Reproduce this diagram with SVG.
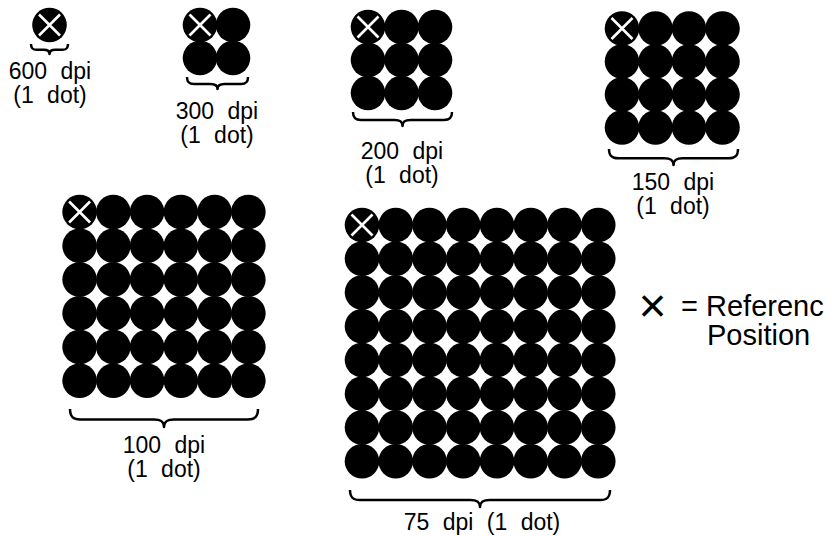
<svg xmlns="http://www.w3.org/2000/svg" xmlns:xlink="http://www.w3.org/1999/xlink" width="835" height="536" viewBox="0 0 835 536">
<style>
.dot{fill:#000}
.xm{stroke:#fff;stroke-width:2.6;fill:none}
.brace{fill:none;stroke:#000;stroke-width:2.5;stroke-linejoin:round}
.lbl{font-family:"Liberation Sans",Arial,Helvetica,sans-serif;font-size:23px;fill:#000;text-anchor:middle;word-spacing:7px}
.leg{font-family:"Liberation Sans",Arial,Helvetica,sans-serif;font-size:29px;fill:#000}
</style>
<defs>
<circle id="d" class="dot" r="17.3"/>
<g id="dx"><circle class="dot" r="17.3"/><path class="xm" d="M-10.5 -10.5 L10.5 10.5 M10.5 -10.5 L-10.5 10.5"/></g>
</defs>
<rect width="835" height="536" fill="#fff"/>

<g id="dpi600">
<use href="#dx" x="49.5" y="25"/>
<path class="brace" d="M31 44 C31 48.4 32.7 49.8 36.8 49.8 L43.7 49.8 C47.5 49.8 49.5 50.6 49.5 54 C49.5 50.6 51.5 49.8 55.3 49.8 L62.2 49.8 C66.3 49.8 68 48.4 68 44"/>
<text class="lbl" x="50" y="79">600 dpi</text>
<text class="lbl" x="50" y="103">(1 dot)</text>
</g>

<g id="dpi300">
<use href="#dx" x="200" y="25"/><use href="#d" x="233" y="25"/>
<use href="#d" x="200" y="58"/><use href="#d" x="233" y="58"/>
<path class="brace" d="M187 77 C187 82.2 189.1 84 194 84 L210.5 84 C215 84 217.5 85 217.5 89 C217.5 85 220 84 224.5 84 L241 84 C245.9 84 248 82.2 248 77"/>
<text class="lbl" x="217" y="119">300 dpi</text>
<text class="lbl" x="217" y="143">(1 dot)</text>
</g>

<g id="dpi200">
<use href="#dx" x="368" y="27"/><use href="#d" x="401.5" y="27"/><use href="#d" x="435" y="27"/>
<use href="#d" x="368" y="60"/><use href="#d" x="401.5" y="60"/><use href="#d" x="435" y="60"/>
<use href="#d" x="368" y="93"/><use href="#d" x="401.5" y="93"/><use href="#d" x="435" y="93"/>
<path class="brace" d="M353 112 C353 118 355.4 120 361 120 L394.5 120 C399.7 120 402.5 121.2 402.5 126 C402.5 121.2 405.3 120 410.5 120 L444 120 C449.6 120 452 118 452 112"/>
<text class="lbl" x="402" y="159">200 dpi</text>
<text class="lbl" x="402" y="183">(1 dot)</text>
</g>

<g id="dpi150">
<use href="#dx" x="622" y="28.5"/><use href="#d" x="655.5" y="28.5"/><use href="#d" x="689" y="28.5"/><use href="#d" x="722.5" y="28.5"/>
<use href="#d" x="622" y="61.5"/><use href="#d" x="655.5" y="61.5"/><use href="#d" x="689" y="61.5"/><use href="#d" x="722.5" y="61.5"/>
<use href="#d" x="622" y="94.5"/><use href="#d" x="655.5" y="94.5"/><use href="#d" x="689" y="94.5"/><use href="#d" x="722.5" y="94.5"/>
<use href="#d" x="622" y="127.5"/><use href="#d" x="655.5" y="127.5"/><use href="#d" x="689" y="127.5"/><use href="#d" x="722.5" y="127.5"/>
<path class="brace" d="M609 149 C609 156 611.8 158.3 618.3 158.3 L664.2 158.3 C670.2 158.3 673.5 159.6 673.5 165 C673.5 159.6 676.8 158.3 682.8 158.3 L728.7 158.3 C735.2 158.3 738 156 738 149"/>
<text class="lbl" x="673" y="190">150 dpi</text>
<text class="lbl" x="673" y="214">(1 dot)</text>
</g>

<g id="dpi100">
<use href="#dx" x="79.6" y="212"/><use href="#d" x="113.35" y="212"/><use href="#d" x="147.1" y="212"/><use href="#d" x="180.85" y="212"/><use href="#d" x="214.6" y="212"/><use href="#d" x="248.35" y="212"/>
<use href="#d" x="79.6" y="245.75"/><use href="#d" x="113.35" y="245.75"/><use href="#d" x="147.1" y="245.75"/><use href="#d" x="180.85" y="245.75"/><use href="#d" x="214.6" y="245.75"/><use href="#d" x="248.35" y="245.75"/>
<use href="#d" x="79.6" y="279.5"/><use href="#d" x="113.35" y="279.5"/><use href="#d" x="147.1" y="279.5"/><use href="#d" x="180.85" y="279.5"/><use href="#d" x="214.6" y="279.5"/><use href="#d" x="248.35" y="279.5"/>
<use href="#d" x="79.6" y="313.25"/><use href="#d" x="113.35" y="313.25"/><use href="#d" x="147.1" y="313.25"/><use href="#d" x="180.85" y="313.25"/><use href="#d" x="214.6" y="313.25"/><use href="#d" x="248.35" y="313.25"/>
<use href="#d" x="79.6" y="347"/><use href="#d" x="113.35" y="347"/><use href="#d" x="147.1" y="347"/><use href="#d" x="180.85" y="347"/><use href="#d" x="214.6" y="347"/><use href="#d" x="248.35" y="347"/>
<use href="#d" x="79.6" y="380.75"/><use href="#d" x="113.35" y="380.75"/><use href="#d" x="147.1" y="380.75"/><use href="#d" x="180.85" y="380.75"/><use href="#d" x="214.6" y="380.75"/><use href="#d" x="248.35" y="380.75"/>
<path class="brace" d="M70 409 C70 416.8 73.1 419.4 80.4 419.4 L153.6 419.4 C160.4 419.4 164 420.9 164 427 C164 420.9 167.6 419.4 174.4 419.4 L247.6 419.4 C254.9 419.4 258 416.8 258 409"/>
<text class="lbl" x="164" y="453">100 dpi</text>
<text class="lbl" x="164" y="477">(1 dot)</text>
</g>

<g id="dpi75">
<g id="r75a"><use href="#dx" x="362" y="225"/><use href="#d" x="395.75" y="225"/><use href="#d" x="429.5" y="225"/><use href="#d" x="463.25" y="225"/><use href="#d" x="497" y="225"/><use href="#d" x="530.75" y="225"/><use href="#d" x="564.5" y="225"/><use href="#d" x="598.25" y="225"/></g>
<g id="r75"><use href="#d" x="362" y="258.75"/><use href="#d" x="395.75" y="258.75"/><use href="#d" x="429.5" y="258.75"/><use href="#d" x="463.25" y="258.75"/><use href="#d" x="497" y="258.75"/><use href="#d" x="530.75" y="258.75"/><use href="#d" x="564.5" y="258.75"/><use href="#d" x="598.25" y="258.75"/></g>
<use href="#r75" y="33.75"/>
<use href="#r75" y="67.5"/>
<use href="#r75" y="101.25"/>
<use href="#r75" y="135"/>
<use href="#r75" y="168.75"/>
<use href="#r75" y="202.5"/>
<path class="brace" d="M350 490 C350 497.5 353 500 360 500 L470 500 C476.5 500 480 501.4 480 507 C480 501.4 483.5 500 490 500 L600 500 C607 500 610 497.5 610 490"/>
<text class="lbl" x="482" y="530">75 dpi (1 dot)</text>
</g>

<g id="legend">
<text class="leg" x="652.5" y="322" style="font-size:48px;text-anchor:middle">×</text>
<text class="leg" x="681" y="316">=</text>
<text class="leg" x="706" y="316">Referenc</text>
<text class="leg" x="707" y="345">Position</text>
</g>
<g id="connectors"/>
</svg>
